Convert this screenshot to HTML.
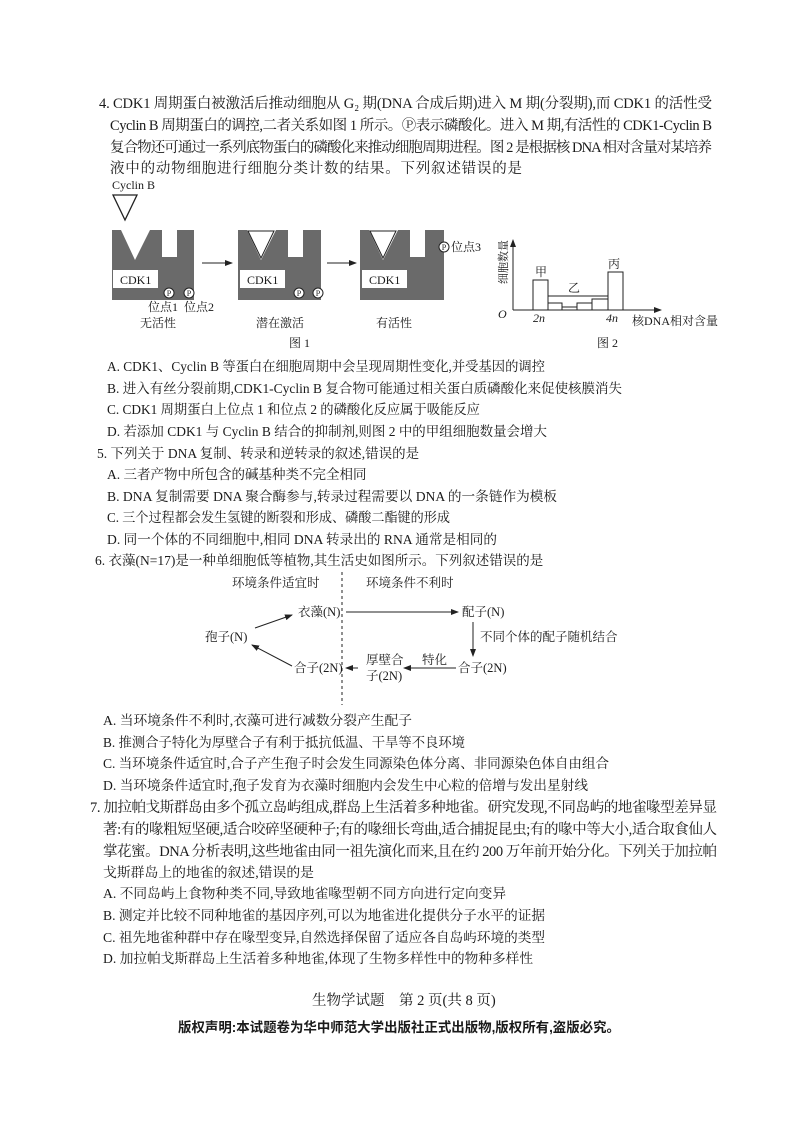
<!DOCTYPE html>
<html><head><meta charset="utf-8"><style>
html,body{margin:0;padding:0;background:#fff}
svg{display:block}
text{font-family:"Liberation Serif","Noto Serif CJK SC",serif;font-size:13.5px;fill:#1a1a1a}
.j{font-size:14.5px}
.s{font-size:12px}
.m{font-size:12.5px}
</style></head><body>
<svg width="800" height="1132" viewBox="0 0 800 1132" xmlns="http://www.w3.org/2000/svg">
<defs>
<marker id="ar" markerWidth="8" markerHeight="6" refX="7" refY="3" orient="auto" markerUnits="userSpaceOnUse"><path d="M0,0 L8,3 L0,6 z" fill="#222"/></marker>
</defs>
<!-- Q4 -->
<text class="j" x="99" y="108" textLength="613" lengthAdjust="spacing">4. CDK1 周期蛋白被激活后推动细胞从 G₂ 期(DNA 合成后期)进入 M 期(分裂期),而 CDK1 的活性受</text>
<text class="j" x="110" y="130" textLength="602" lengthAdjust="spacing">Cyclin B 周期蛋白的调控,二者关系如图 1 所示。Ⓟ表示磷酸化。进入 M 期,有活性的 CDK1-Cyclin B</text>
<text class="j" x="110" y="152" textLength="602" lengthAdjust="spacing">复合物还可通过一系列底物蛋白的磷酸化来推动细胞周期进程。图 2 是根据核 DNA 相对含量对某培养</text>
<text class="j" x="110" y="173" textLength="412" lengthAdjust="spacing">液中的动物细胞进行细胞分类计数的结果。下列叙述错误的是</text>

<!-- Figure 1 -->
<text x="112" y="189" class="s">Cyclin B</text>
<polygon points="113,195 137,195 125,220" fill="#fff" stroke="#222" stroke-width="1.3"/>
<g fill="#6a6a6a">
<path d="M112,230 H121 L135,260 L150,230 H162 V257 H177 V230 H194 V300 H112 Z"/>
<path d="M238,230 H247 L261,260 L276,230 H288 V257 H303 V230 H321 V300 H238 Z"/>
<path d="M360,230 H369 L383,260 L398,230 H410 V257 H425 V230 H444 V300 H360 Z"/>
</g>
<polygon points="248,231 274,231 261,258" fill="#fff" stroke="#222"/>
<polygon points="370,231 396,231 383,258" fill="#fff" stroke="#222"/>
<rect x="113" y="270" width="45" height="18" fill="#fff"/>
<rect x="240" y="270" width="45" height="18" fill="#fff"/>
<rect x="362" y="270" width="45" height="18" fill="#fff"/>
<text x="120" y="284" class="s">CDK1</text>
<text x="247" y="284" class="s">CDK1</text>
<text x="369" y="284" class="s">CDK1</text>
<g fill="#fff" stroke="#222">
<circle cx="169" cy="293" r="5"/><circle cx="189" cy="293" r="5"/>
<circle cx="299" cy="293" r="5"/><circle cx="318" cy="293" r="5"/>
<circle cx="444" cy="247" r="5"/>
</g>
<g text-anchor="middle">
<text x="169" y="296" style="font-size:8px">P</text><text x="189" y="296" style="font-size:8px">P</text>
<text x="299" y="296" style="font-size:8px">P</text><text x="318" y="296" style="font-size:8px">P</text>
<text x="444" y="250" style="font-size:8px">P</text>
</g>
<text x="451" y="251" class="s">位点3</text>
<text x="148" y="311" class="s">位点1</text>
<text x="184" y="311" class="s">位点2</text>
<text x="140" y="327" class="s">无活性</text>
<text x="256" y="327" class="s">潜在激活</text>
<text x="376" y="327" class="s">有活性</text>
<text x="289" y="347" class="s">图 1</text>
<line x1="202" y1="263" x2="232" y2="263" stroke="#222" marker-end="url(#ar)"/>
<line x1="327" y1="263" x2="356" y2="263" stroke="#222" marker-end="url(#ar)"/>

<!-- Figure 2 -->
<line x1="513" y1="310" x2="513" y2="240" stroke="#222" marker-end="url(#ar)"/>
<line x1="513" y1="310" x2="661" y2="310" stroke="#222" marker-end="url(#ar)"/>
<text x="503" y="266" text-anchor="middle" transform="rotate(-90 503 262)" style="font-size:11px">细胞数量</text>
<text x="498" y="318" class="s" font-style="italic">O</text>
<g fill="#fff" stroke="#222">
<rect x="533" y="280" width="15" height="30"/>
<rect x="608" y="272" width="15" height="38"/>
<rect x="548" y="303" width="14" height="7"/>
<rect x="562" y="307" width="15" height="3"/>
<rect x="577" y="303" width="15" height="7"/>
<rect x="592" y="299" width="16" height="11"/>
</g>
<line x1="548" y1="296" x2="608" y2="296" stroke="#222"/>
<text x="535" y="276" class="s">甲</text>
<text x="568" y="292" class="s">乙</text>
<text x="608" y="268" class="s">丙</text>
<text x="533" y="322" class="s" font-style="italic">2n</text>
<text x="606" y="322" class="s" font-style="italic">4n</text>
<text x="632" y="325" class="s">核DNA相对含量</text>
<text x="597" y="347" class="s">图 2</text>

<!-- Q4 options -->
<text x="107" y="371" textLength="438" lengthAdjust="spacingAndGlyphs">A. CDK1、Cyclin B 等蛋白在细胞周期中会呈现周期性变化,并受基因的调控</text>
<text x="107" y="393" textLength="515" lengthAdjust="spacingAndGlyphs">B. 进入有丝分裂前期,CDK1-Cyclin B 复合物可能通过相关蛋白质磷酸化来促使核膜消失</text>
<text x="107" y="414" textLength="373" lengthAdjust="spacingAndGlyphs">C. CDK1 周期蛋白上位点 1 和位点 2 的磷酸化反应属于吸能反应</text>
<text x="107" y="436" textLength="440" lengthAdjust="spacingAndGlyphs">D. 若添加 CDK1 与 Cyclin B 结合的抑制剂,则图 2 中的甲组细胞数量会增大</text>
<!-- Q5 -->
<text x="97" y="458">5. 下列关于 DNA 复制、转录和逆转录的叙述,错误的是</text>
<text x="107" y="479">A. 三者产物中所包含的碱基种类不完全相同</text>
<text x="107" y="501" textLength="450" lengthAdjust="spacingAndGlyphs">B. DNA 复制需要 DNA 聚合酶参与,转录过程需要以 DNA 的一条链作为模板</text>
<text x="107" y="522" textLength="343" lengthAdjust="spacingAndGlyphs">C. 三个过程都会发生氢键的断裂和形成、磷酸二酯键的形成</text>
<text x="107" y="544" textLength="390" lengthAdjust="spacingAndGlyphs">D. 同一个体的不同细胞中,相同 DNA 转录出的 RNA 通常是相同的</text>
<!-- Q6 -->
<text x="95" y="565">6. 衣藻(N=17)是一种单细胞低等植物,其生活史如图所示。下列叙述错误的是</text>

<!-- Figure 6 -->
<line x1="342" y1="572" x2="342" y2="705" stroke="#222" stroke-dasharray="3,3"/>
<text x="232" y="587" class="m">环境条件适宜时</text>
<text x="366" y="587" class="m">环境条件不利时</text>
<text x="298" y="616" class="m">衣藻(N)</text>
<text x="462" y="616" class="m">配子(N)</text>
<text x="205" y="641" class="m">孢子(N)</text>
<text x="480" y="641" class="m">不同个体的配子随机结合</text>
<text x="294" y="672" class="m">合子(2N)</text>
<text x="366" y="664" class="m">厚壁合</text>
<text x="366" y="680" class="m">子(2N)</text>
<text x="422" y="664" class="m">特化</text>
<text x="458" y="672" class="m">合子(2N)</text>
<line x1="346" y1="612" x2="458" y2="612" stroke="#222" marker-end="url(#ar)"/>
<line x1="473" y1="622" x2="473" y2="656" stroke="#222" marker-end="url(#ar)"/>
<line x1="255" y1="628" x2="292" y2="615" stroke="#222" marker-end="url(#ar)"/>
<line x1="292" y1="666" x2="252" y2="645" stroke="#222" marker-end="url(#ar)"/>
<line x1="456" y1="668" x2="404" y2="668" stroke="#222" marker-end="url(#ar)"/>
<line x1="358" y1="668" x2="346" y2="668" stroke="#222" marker-end="url(#ar)"/>

<!-- Q6 options -->
<text x="103" y="725" textLength="309" lengthAdjust="spacingAndGlyphs">A. 当环境条件不利时,衣藻可进行减数分裂产生配子</text>
<text x="103" y="747" textLength="362" lengthAdjust="spacingAndGlyphs">B. 推测合子特化为厚壁合子有利于抵抗低温、干旱等不良环境</text>
<text x="103" y="768" textLength="506" lengthAdjust="spacingAndGlyphs">C. 当环境条件适宜时,合子产生孢子时会发生同源染色体分离、非同源染色体自由组合</text>
<text x="103" y="790" textLength="485" lengthAdjust="spacingAndGlyphs">D. 当环境条件适宜时,孢子发育为衣藻时细胞内会发生中心粒的倍增与发出星射线</text>
<!-- Q7 -->
<text class="j" x="90" y="812" textLength="627" lengthAdjust="spacing">7. 加拉帕戈斯群岛由多个孤立岛屿组成,群岛上生活着多种地雀。研究发现,不同岛屿的地雀喙型差异显</text>
<text class="j" x="103" y="834" textLength="614" lengthAdjust="spacing">著:有的喙粗短坚硬,适合咬碎坚硬种子;有的喙细长弯曲,适合捕捉昆虫;有的喙中等大小,适合取食仙人</text>
<text class="j" x="103" y="856" textLength="614" lengthAdjust="spacing">掌花蜜。DNA 分析表明,这些地雀由同一祖先演化而来,且在约 200 万年前开始分化。下列关于加拉帕</text>
<text x="103" y="877" textLength="211" lengthAdjust="spacingAndGlyphs">戈斯群岛上的地雀的叙述,错误的是</text>
<text x="103" y="898" textLength="403" lengthAdjust="spacingAndGlyphs">A. 不同岛屿上食物种类不同,导致地雀喙型朝不同方向进行定向变异</text>
<text x="103" y="920" textLength="442" lengthAdjust="spacingAndGlyphs">B. 测定并比较不同种地雀的基因序列,可以为地雀进化提供分子水平的证据</text>
<text x="103" y="942" textLength="442" lengthAdjust="spacingAndGlyphs">C. 祖先地雀种群中存在喙型变异,自然选择保留了适应各自岛屿环境的类型</text>
<text x="103" y="963" textLength="430" lengthAdjust="spacingAndGlyphs">D. 加拉帕戈斯群岛上生活着多种地雀,体现了生物多样性中的物种多样性</text>
<!-- Footer -->
<text class="j" x="312" y="1005">生物学试题　第 2 页(共 8 页)</text>
<text x="178" y="1032" font-weight="bold" textLength="442" lengthAdjust="spacingAndGlyphs" style="font-family:'Liberation Sans','Noto Sans CJK SC',sans-serif;font-size:13.5px">版权声明:本试题卷为华中师范大学出版社正式出版物,版权所有,盗版必究。</text>
</svg>
</body></html>
